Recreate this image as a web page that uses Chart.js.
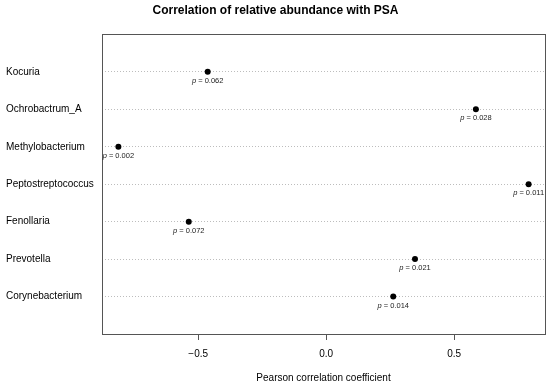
<!DOCTYPE html>
<html>
<head>
<meta charset="utf-8">
<script src="https://cdn.jsdelivr.net/npm/chart.js@4/dist/chart.umd.min.js"></script>
<style>
  html, body { margin: 0; padding: 0; background: #fff; }
  canvas { display: block; }
</style>
</head>
<body>
<canvas id="chart" width="550" height="386"></canvas>
<script>
// taxa, top to bottom
const taxa = ['Kocuria', 'Ochrobactrum_A', 'Methylobacterium', 'Peptostreptococcus', 'Fenollaria', 'Prevotella', 'Corynebacterium'];
// Pearson r with PSA
const pearsonR = [-0.463, 0.585, -0.812, 0.791, -0.537, 0.347, 0.262];
// p-values shown under each point
const pValues = ['0.062', '0.028', '0.002', '0.011', '0.072', '0.021', '0.014'];
const xTicks = [-0.5, 0, 0.5];

const FONT = "'Liberation Sans', Arial, Helvetica, sans-serif";

// box around the plotting region + p labels
const boxAndLabels = {
    id: 'boxAndLabels',
    afterDatasetsDraw(chart) {
        const ctx = chart.ctx;
        const a = chart.chartArea;
        ctx.save();
        ctx.strokeStyle = '#555';
        ctx.lineWidth = 1;
        ctx.strokeRect(Math.round(a.left) + 0.5, Math.round(a.top) + 0.5,
            Math.round(a.right - a.left), Math.round(a.bottom - a.top));

        const meta = chart.getDatasetMeta(0);
        ctx.fillStyle = '#222';
        ctx.textBaseline = 'middle';
        ctx.textAlign = 'left';
        meta.data.forEach((pt, i) => {
            const rest = ' = ' + pValues[i];
            ctx.font = 'italic 7.5px ' + FONT;
            const wp = ctx.measureText('p').width;
            ctx.font = '7.5px ' + FONT;
            const wr = ctx.measureText(rest).width;
            const x0 = pt.x - (wp + wr) / 2;
            const y = pt.y + 9;
            ctx.font = 'italic 7.5px ' + FONT;
            ctx.fillText('p', x0, y);
            ctx.font = '7.5px ' + FONT;
            ctx.fillText(rest, x0 + wp, y);
        });
        ctx.restore();
    }
};

new Chart(document.getElementById('chart').getContext('2d'), {
    type: 'scatter',
    data: {
        datasets: [{
            data: taxa.map((t, i) => ({ x: pearsonR[i], y: i + 1 })),
            backgroundColor: '#000',
            borderWidth: 0,
            pointRadius: 3
        }]
    },
    plugins: [boxAndLabels],
    options: {
        responsive: false,
        animation: false,
        events: [],
        layout: { padding: { left: 6, right: 5, top: 0, bottom: 0 } },
        plugins: {
            legend: { display: false },
            tooltip: { enabled: false },
            title: {
                display: true,
                text: 'Correlation of relative abundance with PSA',
                color: '#000',
                font: { family: FONT, size: 12, weight: 'bold' },
                padding: { top: 3, bottom: 17 }
            }
        },
        scales: {
            x: {
                type: 'linear',
                min: -0.876,
                max: 0.855,
                afterBuildTicks: scale => { scale.ticks = xTicks.map(v => ({ value: v })); },
                afterFit: scale => { scale.height = 52; },
                border: { display: true, color: '#555' },
                grid: { drawOnChartArea: false, tickLength: 6, color: '#555' },
                ticks: {
                    color: '#000',
                    padding: 8,
                    font: { family: FONT, size: 10 },
                    callback: v => v.toFixed(1).replace('-', '\u2212')
                },
                title: {
                    display: true,
                    text: 'Pearson correlation coefficient',
                    color: '#000',
                    font: { family: FONT, size: 10 },
                    padding: { top: 0, bottom: 2 }
                }
            },
            y: {
                type: 'linear',
                reverse: true,
                min: 0,
                max: 8,
                afterBuildTicks: scale => { scale.ticks = taxa.map((t, i) => ({ value: i + 1 })); },
                afterFit: scale => { scale.width = 96; },
                border: { display: false, dash: [1, 2] },
                grid: { color: '#bdbdbd', drawTicks: false },
                ticks: {
                    color: '#000',
                    crossAlign: 'far',
                    font: { family: FONT, size: 10 },
                    callback: v => taxa[v - 1]
                }
            }
        }
    }
});
</script>
</body>
</html>
